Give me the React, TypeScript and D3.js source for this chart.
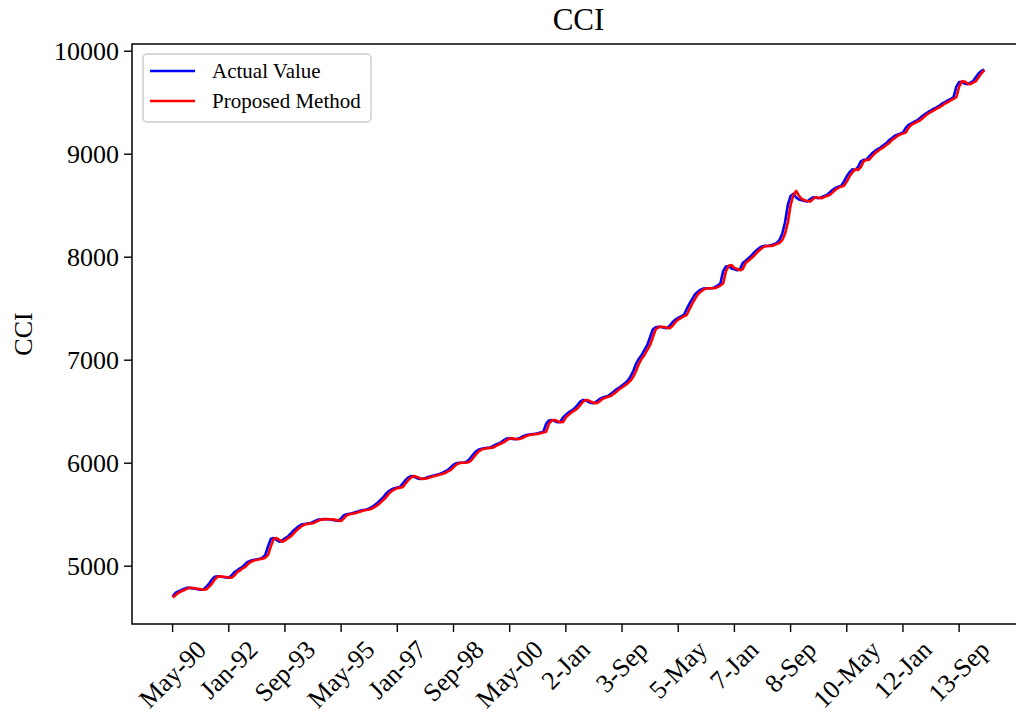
import React, { useRef, useEffect } from "react";
import * as d3 from "d3";

// monthly index of each x tick (every 20 months from May-90)
const tickIndex = [0, 20, 40, 60, 80, 100, 120, 140, 160, 180, 200, 220, 240, 260, 280];
const tickLabels = [
  "May-90", "Jan-92", "Sep-93", "May-95", "Jan-97", "Sep-98", "May-00",
  "2-Jan", "3-Sep", "5-May", "7-Jan", "8-Sep", "10-May", "12-Jan", "13-Sep",
];
const yTicks = [5000, 6000, 7000, 8000, 9000, 10000];

// one value per month
const actualValues = [
  4700, 4735, 4750, 4762, 4775, 4785, 4786, 4780, 4777, 4772,
  4766, 4770, 4795, 4825, 4865, 4893, 4896, 4893, 4890, 4886,
  4883, 4905, 4938, 4955, 4975, 4990, 5020, 5039, 5050, 5058,
  5062, 5068, 5078, 5105, 5190, 5262, 5268, 5250, 5233, 5245,
  5265, 5282, 5310, 5340, 5363, 5385, 5400, 5405, 5410, 5412,
  5425, 5438, 5448, 5450, 5452, 5451, 5450, 5445, 5438, 5434,
  5460, 5490, 5499, 5505, 5509, 5518, 5527, 5535, 5541, 5546,
  5555, 5572, 5589, 5612, 5638, 5665, 5700, 5725, 5742, 5751,
  5758, 5765, 5800, 5835, 5858, 5871, 5862, 5850, 5842, 5845,
  5852, 5860, 5868, 5876, 5884, 5890, 5900, 5915, 5929, 5955,
  5982, 5995, 6000, 6000, 6002, 6015, 6045, 6080, 6110, 6128,
  6136, 6140, 6144, 6146, 6160, 6175, 6186, 6200, 6220, 6235,
  6237, 6230, 6227, 6234, 6245, 6260, 6269, 6273, 6277, 6279,
  6285, 6293, 6301, 6380, 6410, 6415, 6405, 6392, 6395, 6440,
  6465, 6488, 6505, 6525, 6555, 6590, 6609, 6605, 6592, 6580,
  6578, 6595, 6618, 6630, 6640, 6648, 6668, 6689, 6713, 6730,
  6750, 6770, 6795, 6835, 6890, 6960, 7010, 7046, 7095, 7143,
  7220, 7295, 7315, 7320, 7318, 7310, 7305, 7330, 7365, 7390,
  7405, 7420, 7434, 7490, 7545, 7590, 7635, 7660, 7680, 7692,
  7694, 7693, 7693, 7705, 7720, 7740, 7860, 7905, 7910, 7885,
  7878, 7868, 7880, 7940, 7960, 7985, 8010, 8040, 8065, 8088,
  8102, 8105, 8104, 8110, 8122, 8132, 8160, 8220, 8330, 8500,
  8590, 8610, 8575, 8555, 8548, 8540, 8535, 8560, 8577, 8572,
  8567, 8578, 8590, 8600, 8625, 8650, 8668, 8680, 8688, 8730,
  8780, 8820, 8848, 8842, 8870, 8925, 8940, 8942, 8975, 9004,
  9025, 9045, 9060, 9082, 9101, 9130, 9150, 9172, 9185, 9195,
  9205, 9250, 9280, 9295, 9310, 9322, 9345, 9368, 9388, 9405,
  9420, 9437, 9450, 9468, 9487, 9500, 9518, 9532, 9548, 9650,
  9695, 9695, 9680, 9675, 9690, 9705, 9745, 9782, 9805, 9815,
];

const proposedValues = [
  4693, 4712, 4735, 4750, 4762, 4775, 4785, 4786, 4780, 4777,
  4772, 4766, 4770, 4795, 4825, 4865, 4893, 4896, 4893, 4890,
  4886, 4883, 4905, 4938, 4955, 4975, 4990, 5020, 5039, 5050,
  5058, 5062, 5068, 5078, 5105, 5190, 5262, 5268, 5250, 5233,
  5245, 5265, 5282, 5310, 5340, 5363, 5385, 5400, 5405, 5410,
  5412, 5425, 5438, 5448, 5450, 5452, 5451, 5450, 5445, 5438,
  5434, 5460, 5490, 5499, 5505, 5509, 5518, 5527, 5535, 5541,
  5546, 5555, 5572, 5589, 5612, 5638, 5665, 5700, 5725, 5742,
  5751, 5758, 5765, 5800, 5835, 5858, 5871, 5862, 5850, 5842,
  5845, 5852, 5860, 5868, 5876, 5884, 5890, 5900, 5915, 5929,
  5955, 5982, 5995, 6000, 6000, 6002, 6015, 6045, 6080, 6110,
  6128, 6136, 6140, 6144, 6146, 6160, 6175, 6186, 6200, 6220,
  6235, 6237, 6230, 6227, 6234, 6245, 6260, 6269, 6273, 6277,
  6279, 6285, 6293, 6301, 6380, 6410, 6415, 6405, 6392, 6395,
  6440, 6465, 6488, 6505, 6525, 6555, 6590, 6609, 6605, 6592,
  6580, 6578, 6595, 6618, 6630, 6640, 6648, 6668, 6689, 6713,
  6730, 6750, 6770, 6795, 6835, 6890, 6960, 7010, 7046, 7095,
  7143, 7220, 7295, 7315, 7320, 7318, 7310, 7305, 7330, 7365,
  7390, 7405, 7420, 7434, 7490, 7545, 7590, 7635, 7660, 7680,
  7692, 7694, 7693, 7693, 7705, 7720, 7740, 7860, 7912, 7918,
  7890, 7880, 7868, 7880, 7940, 7960, 7985, 8010, 8040, 8065,
  8088, 8102, 8105, 8104, 8110, 8122, 8132, 8160, 8220, 8330,
  8500, 8600, 8638, 8590, 8560, 8548, 8540, 8535, 8560, 8577,
  8572, 8567, 8578, 8590, 8600, 8625, 8650, 8668, 8680, 8688,
  8730, 8780, 8820, 8848, 8842, 8870, 8925, 8940, 8942, 8975,
  9004, 9025, 9045, 9060, 9082, 9101, 9130, 9150, 9172, 9185,
  9195, 9205, 9250, 9280, 9295, 9310, 9322, 9345, 9368, 9388,
  9405, 9420, 9437, 9450, 9468, 9487, 9500, 9518, 9532, 9548,
  9650, 9702, 9700, 9680, 9675, 9690, 9705, 9745, 9782, 9812,
];

const FONT = "'Liberation Serif', 'Times New Roman', serif";

const App = () => {
  const svgRef = useRef<SVGSVGElement | null>(null);

  useEffect(() => {
    const svg = d3.select(svgRef.current);
    svg.selectAll("*").remove();

    const left = 132;
    const right = 1025; // right spine falls just outside the picture
    const top = 44;
    const bottom = 624;
    const tickFont = 26;

    const n = actualValues.length;
    const xScale = d3
      .scaleLinear()
      .domain([-0.05 * (n - 1), (n - 1) * 1.05])
      .range([left, right]);

    const yScale = d3.scaleLinear().domain([4434, 10065]).range([bottom, top]);

    const line = d3
      .line<number>()
      .x((d, i) => xScale(i))
      .y((d) => yScale(d));

    svg
      .append("path")
      .datum(actualValues)
      .attr("fill", "none")
      .attr("stroke", "#0000ff")
      .attr("stroke-width", 2.6)
      .attr("stroke-linejoin", "round")
      .attr("d", line);

    svg
      .append("path")
      .datum(proposedValues)
      .attr("fill", "none")
      .attr("stroke", "#ff0000")
      .attr("stroke-width", 2.6)
      .attr("stroke-linejoin", "round")
      .attr("d", line);

    // spines
    svg
      .append("rect")
      .attr("x", left)
      .attr("y", top)
      .attr("width", right - left)
      .attr("height", bottom - top)
      .attr("fill", "none")
      .attr("stroke", "black")
      .attr("stroke-width", 1.5);

    // y axis
    const yAxis = d3
      .axisLeft(yScale)
      .tickValues(yTicks)
      .tickSize(8)
      .tickPadding(5)
      .tickSizeOuter(0)
      .tickFormat((d) => String(d));

    const yg = svg.append("g").attr("transform", `translate(${left},0)`).call(yAxis);
    yg.select(".domain").remove();
    yg.selectAll(".tick line").attr("stroke", "black").attr("stroke-width", 1.4);
    yg.selectAll(".tick text")
      .attr("fill", "black")
      .style("font-family", FONT)
      .style("font-size", `${tickFont}px`);

    // x ticks
    tickIndex.forEach((idx) => {
      svg
        .append("line")
        .attr("x1", xScale(idx))
        .attr("x2", xScale(idx))
        .attr("y1", bottom)
        .attr("y2", bottom + 8)
        .attr("stroke", "black")
        .attr("stroke-width", 1.4);
    });

    // rotated labels, centred under the tick like matplotlib's rotation=45
    tickIndex.forEach((idx, k) => {
      const tx = xScale(idx);
      const t = svg
        .append("text")
        .text(tickLabels[k])
        .attr("text-anchor", "middle")
        .attr("dominant-baseline", "central")
        .style("font-family", FONT)
        .style("font-size", `${tickFont}px`)
        .attr("fill", "black");
      const w = (t.node() as SVGTextElement).getComputedTextLength();
      const h = tickFont * 1.0;
      const cy = bottom + 8 + 4 + (w + h) / (2 * Math.SQRT2);
      t.attr("x", tx).attr("y", cy).attr("transform", `rotate(-45, ${tx}, ${cy})`);
    });

    // title and y label
    svg
      .append("text")
      .text("CCI")
      .attr("x", (left + right) / 2)
      .attr("y", 30)
      .attr("text-anchor", "middle")
      .style("font-family", FONT)
      .style("font-size", "31px");

    svg
      .append("text")
      .text("CCI")
      .attr("transform", `translate(32, ${(top + bottom) / 2}) rotate(-90)`)
      .attr("text-anchor", "middle")
      .style("font-family", FONT)
      .style("font-size", "26px");

    // legend
    const lg = svg.append("g");
    lg.append("rect")
      .attr("x", 143)
      .attr("y", 54)
      .attr("width", 228)
      .attr("height", 68)
      .attr("rx", 4)
      .attr("fill", "white")
      .attr("fill-opacity", 0.8)
      .attr("stroke", "#cccccc")
      .attr("stroke-width", 1.4);

    const legendItems = [
      { label: "Actual Value", color: "#0000ff" },
      { label: "Proposed Method", color: "#ff0000" },
    ];
    legendItems.forEach((item, i) => {
      const y = 71 + i * 30;
      lg.append("line")
        .attr("x1", 150)
        .attr("x2", 195)
        .attr("y1", y)
        .attr("y2", y)
        .attr("stroke", item.color)
        .attr("stroke-width", 2.4);
      lg.append("text")
        .text(item.label)
        .attr("x", 212)
        .attr("y", y + 7)
        .style("font-family", FONT)
        .style("font-size", "21px");
    });
  }, []);

  return (
    <svg
      ref={svgRef}
      width={1016}
      height={721}
      style={{ position: "absolute", left: 0, top: 0, background: "white" }}
    ></svg>
  );
};

export default App;
